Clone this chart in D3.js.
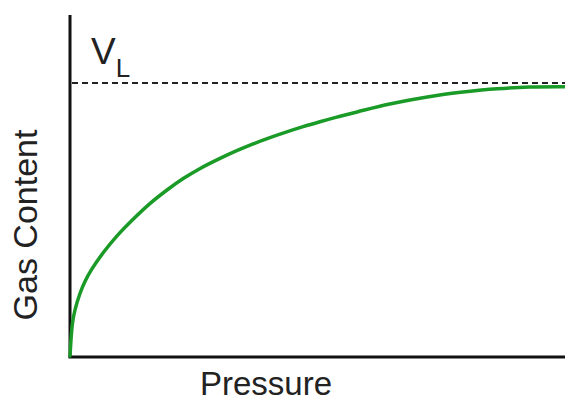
<!DOCTYPE html>
<html>
<head>
<meta charset="utf-8">
<script src="https://cdn.jsdelivr.net/npm/d3@7"></script>
<style>
  html, body { margin: 0; padding: 0; background: #fff; }
  svg { display: block; font-family: "Liberation Sans", Arial, sans-serif; }
</style>
</head>
<body>
<svg id="chart" width="565" height="401"></svg>
<script>
// Langmuir-type isotherm: gas content rising with pressure toward V_L
const pressure = [0, 0.5, 1, 2, 3, 4.4, 6.7, 9.5, 12.7, 16.2, 19.6, 22.8, 26.3, 30.1, 33.7, 37.0, 40.4, 43.8, 47.1, 50.5, 53.9, 58.0, 64.6, 74.7, 79.4, 86.3, 92.9, 100];
const gasContent = [0, 0.12, 0.168, 0.228, 0.272, 0.318, 0.378, 0.44, 0.50, 0.559, 0.608, 0.649, 0.687, 0.722, 0.752, 0.777, 0.800, 0.821, 0.840, 0.858, 0.875, 0.894, 0.923, 0.956, 0.967, 0.979, 0.985, 0.986];
const langmuirVolume = 1.0;
const axisTitles = { x: "Pressure", y: "Gas Content" };

const svg = d3.select("#chart");
const x = d3.scaleLinear().domain([0, 100]).range([70, 565]);
const y = d3.scaleLinear().domain([0, 1]).range([356, 83]);

// Axes: plain lines, no ticks
svg.append("line")
  .attr("x1", x(0)).attr("x2", x(0))
  .attr("y1", 15).attr("y2", y(0) + 1.5)
  .attr("stroke", "#111").attr("stroke-width", 3);
svg.append("line")
  .attr("x1", x(0) - 1.5).attr("x2", 565)
  .attr("y1", y(0) + 1).attr("y2", y(0) + 1)
  .attr("stroke", "#111").attr("stroke-width", 3);

// V_L asymptote
svg.append("line")
  .attr("x1", x(0) + 2).attr("x2", x(100))
  .attr("y1", y(langmuirVolume)).attr("y2", y(langmuirVolume))
  .attr("stroke", "#222").attr("stroke-width", 2)
  .attr("stroke-dasharray", "6,4");

// Isotherm curve
const line = d3.line()
  .x((d, i) => x(pressure[i]))
  .y(d => y(d))
  .curve(d3.curveCatmullRom.alpha(0.5));
svg.append("path")
  .attr("d", line(gasContent))
  .attr("fill", "none")
  .attr("stroke", "#1a9a26")
  .attr("stroke-width", 3.5)
  .attr("stroke-linecap", "round");

// V_L label
const vl = svg.append("text")
  .attr("x", 91).attr("y", 64)
  .attr("fill", "#222")
  .attr("font-size", 37);
vl.append("tspan").text("V");
vl.append("tspan").attr("font-size", 26).attr("dy", 13).text("L");

// Axis titles
svg.append("text")
  .attr("x", 266).attr("y", 395)
  .attr("text-anchor", "middle")
  .attr("fill", "#222")
  .attr("font-size", 33)
  .text(axisTitles.x);
svg.append("text")
  .attr("transform", "translate(37,225) rotate(-90)")
  .attr("text-anchor", "middle")
  .attr("fill", "#222")
  .attr("font-size", 34)
  .text(axisTitles.y);
</script>
</body>
</html>
